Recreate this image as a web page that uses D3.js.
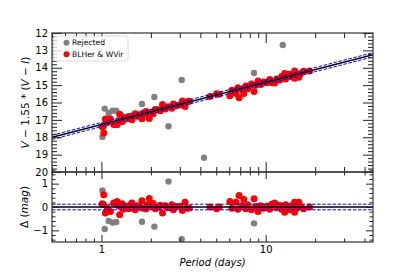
<!DOCTYPE html>
<html>
<head>
<meta charset="utf-8">
<script src="https://cdn.jsdelivr.net/npm/d3@7"></script>
<style>
  body { margin: 0; background: #fff; }
  svg { display: block; font-family: "DejaVu Sans", sans-serif; }
</style>
</head>
<body>
<div id="chart"></div>
<script>
// BLHer & WVir stars (period in days, Wesenheit mag, residual from fit)
const blPeriods = [1.010, 1.033, 1.028, 1.057, 1.087, 1.134, 1.187, 1.245, 1.268, 1.291,
  1.335, 1.360, 1.398, 1.463, 1.499, 1.535, 1.563, 1.607, 1.653, 1.707,
  1.765, 1.797, 1.866, 1.901, 1.954, 2.029, 2.066, 2.125, 2.225, 2.279,
  2.353, 2.443, 2.547, 2.682, 2.743, 2.848, 3.012, 3.110, 3.229, 3.320, 3.428,
  4.577, 5.025, 5.212, 6.050, 6.221, 6.578, 6.765, 6.888, 7.153, 7.356,
  7.564, 7.778, 8.190, 8.493, 8.697, 8.981, 9.326, 9.725, 10.14, 10.57,
  10.87, 11.34, 11.66, 12.16, 12.50, 13.04, 13.22, 13.60, 13.98, 14.38,
  14.99, 14.99, 15.41, 15.91, 16.30, 17.00, 18.49];
const blMags = [17.40, 17.76, 17.35, 16.95, 17.14, 16.95, 17.26, 17.28, 17.07, 16.67,
  17.11, 16.85, 16.95, 16.80, 16.94, 16.99, 16.75, 16.65, 16.79, 16.71,
  16.94, 16.60, 16.52, 16.69, 16.92, 16.55, 16.65, 16.40, 16.42, 16.48,
  16.11, 16.38, 16.25, 16.33, 16.09, 16.19, 16.14, 15.92, 16.23, 15.95, 15.93,
  15.66, 15.50, 15.53, 15.61, 15.29, 15.48, 15.15, 15.72, 15.24, 15.48,
  15.05, 15.21, 14.93, 15.36, 15.01, 14.76, 14.96, 14.82, 14.86, 14.68,
  14.87, 14.88, 14.65, 14.71, 14.50, 14.33, 14.65, 14.52, 14.37, 14.51,
  14.61, 14.18, 14.33, 14.55, 14.34, 14.20, 14.19];
const blResid = [0.14, 0.52, 0.11, -0.26, -0.04, -0.19, 0.17, 0.24, 0.05, -0.33,
  0.14, -0.10, 0.03, -0.07, 0.10, 0.17, -0.05, -0.12, 0.05, 0.00,
  0.27, -0.05, -0.09, 0.10, 0.36, 0.03, 0.15, -0.07, -0.01, 0.08,
  -0.26, 0.05, -0.03, 0.10, -0.12, 0.02, 0.03, -0.15, 0.20, -0.05, -0.04,
  0.00, -0.07, 0.00, 0.24, -0.05, 0.20, -0.10, 0.49, 0.05, 0.32,
  -0.08, 0.10, -0.12, 0.35, 0.02, -0.19, 0.05, -0.05, 0.03, -0.10,
  0.12, 0.17, -0.03, 0.08, -0.10, -0.23, 0.10, 0.00, -0.12, 0.05,
  0.20, -0.23, -0.05, 0.20, 0.02, -0.08, 0.00];

// rejected stars
const rejPeriods = [1.014, 1.047, 1.107, 1.17, 1.23, 1.765, 2.10, 2.56, 3.08, 4.21, 8.49, 12.7];
const rejMags = [17.98, 16.35, 16.60, 16.47, 16.47, 16.08, 15.68, 17.37, 14.70, 19.18, 14.30, 12.69];
const rejResid = [0.71, -0.94, -0.60, -0.67, -0.64, -0.63, -0.84, 1.09, -1.38, 3.43, -0.70, -1.90];

// P-W fit: W = zero + slope * log10(P), scatter band +/- sigma
const fitSlope = -2.43;
const fitZero = 17.27;
const fitSigma = 0.12;

const xDomain = [0.5, 45];
const topDomain = [12, 20];
const botDomain = [-1.5, 1.5];
const xMajor = [1, 10];
const xMinor = [0.5, 0.6, 0.7, 0.8, 0.9, 2, 3, 4, 5, 6, 7, 8, 9, 20, 30, 40];
const topMajor = [12, 13, 14, 15, 16, 17, 18, 19, 20];
const botMajor = [-1, 0, 1];

const W = 415, H = 277;
const left = 52, right = 373;
const topY0 = 33, topY1 = 172, botY1 = 242;

const svg = d3.select("#chart").append("svg")
  .attr("width", W).attr("height", H);

const x = d3.scaleLog().domain(xDomain).range([left, right]);
const yTop = d3.scaleLinear().domain(topDomain).range([topY0, topY1]);
const yBot = d3.scaleLinear().domain(botDomain).range([botY1, topY1]);

// minor ticks every 0.2 mag
function minorTicks(dom) {
  const lo = Math.min(dom[0], dom[1]), hi = Math.max(dom[0], dom[1]);
  return d3.range(Math.round(lo * 5), Math.round(hi * 5) + 1)
    .map(d => d / 5).filter(d => Math.abs(d - Math.round(d)) > 1e-6);
}

svg.append("clipPath").attr("id", "clipTop").append("rect")
  .attr("x", left).attr("y", topY0).attr("width", right - left).attr("height", topY1 - topY0);
svg.append("clipPath").attr("id", "clipBot").append("rect")
  .attr("x", left).attr("y", topY1).attr("width", right - left).attr("height", botY1 - topY1);

function drawPanel(y, y0, y1, clipId, mags, rmags, bandCenter, majorY, minorY, isBottom) {
  const g = svg.append("g");
  const plot = g.append("g").attr("clip-path", "url(#" + clipId + ")");

  // rejected
  plot.selectAll(".rej").data(rejPeriods).enter().append("circle")
    .attr("cx", d => x(d))
    .attr("cy", (d, i) => y(rmags[i]))
    .attr("r", 3.2)
    .attr("fill", "#808080");

  // BLHer & WVir
  plot.selectAll(".bl").data(blPeriods).enter().append("circle")
    .attr("cx", d => x(d))
    .attr("cy", (d, i) => y(mags[i]))
    .attr("r", 3.5)
    .attr("fill", "#ff0000");

  // fit line and sigma band
  const line = d3.line().x(d => x(d)).y(d => y(bandCenter(d)));
  [-fitSigma, fitSigma].forEach(off => {
    plot.append("path")
      .attr("d", d3.line().x(d => x(d)).y(d => y(bandCenter(d) + off))(xDomain))
      .attr("fill", "none").attr("stroke", "#0000ff")
      .attr("stroke-width", 1).attr("stroke-dasharray", "3.5,1.6");
  });
  plot.append("path")
    .attr("d", line(xDomain))
    .attr("fill", "none").attr("stroke", "#000").attr("stroke-width", 1.4);

  const majLen = isBottom ? 7 : 10;
  const minLen = isBottom ? 3.5 : 5;
  const tickCol = "#222";

  // y ticks left & right
  g.append("g").attr("transform", "translate(" + left + ",0)")
    .call(d3.axisLeft(y).tickValues(majorY).tickSize(-majLen).tickPadding(4)
      .tickFormat(d => d < 0 ? "\u2212" + Math.abs(d) : d));
  g.append("g").attr("transform", "translate(" + left + ",0)")
    .call(d3.axisLeft(y).tickValues(minorY).tickSize(-minLen).tickFormat(""));
  g.append("g").attr("transform", "translate(" + right + ",0)")
    .call(d3.axisRight(y).tickValues(majorY).tickSize(-majLen).tickFormat(""));
  g.append("g").attr("transform", "translate(" + right + ",0)")
    .call(d3.axisRight(y).tickValues(minorY).tickSize(-minLen).tickFormat(""));

  // x ticks top & bottom
  g.append("g").attr("transform", "translate(0," + y0 + ")")
    .call(d3.axisTop(x).tickValues(xMajor).tickSize(-majLen).tickFormat(""));
  g.append("g").attr("transform", "translate(0," + y0 + ")")
    .call(d3.axisTop(x).tickValues(xMinor).tickSize(-minLen).tickFormat(""));
  g.append("g").attr("transform", "translate(0," + y1 + ")")
    .call(d3.axisBottom(x).tickValues(xMajor).tickSize(-majLen).tickPadding(4)
      .tickFormat(isBottom ? d3.format("d") : ""));
  g.append("g").attr("transform", "translate(0," + y1 + ")")
    .call(d3.axisBottom(x).tickValues(xMinor).tickSize(-minLen).tickFormat(""));

  g.selectAll(".domain").remove();
  g.selectAll(".tick line").attr("stroke", tickCol).attr("stroke-width", 1);
  g.selectAll(".tick text").attr("font-size", "10px").attr("fill", "#000")
    .attr("font-family", "DejaVu Sans");

  g.append("rect").attr("x", left).attr("y", y0)
    .attr("width", right - left).attr("height", y1 - y0)
    .attr("fill", "none").attr("stroke", "#333").attr("stroke-width", 1.2);
  return g;
}

drawPanel(yTop, topY0, topY1, "clipTop", blMags, rejMags,
  p => fitZero + fitSlope * Math.log10(p), topMajor, minorTicks(topDomain), false);
drawPanel(yBot, topY1, botY1, "clipBot", blResid, rejResid,
  p => 0, botMajor, minorTicks(botDomain), true);

// legend
const leg = svg.append("g");
leg.append("rect").attr("x", 53.5).attr("y", 36).attr("width", 74.5).attr("height", 25)
  .attr("rx", 2.5).attr("fill", "#fff").attr("fill-opacity", 0.8)
  .attr("stroke", "#d0d0d0").attr("stroke-width", 0.8);
const legItems = [{ label: "Rejected", color: "#808080" }, { label: "BLHer & WVir", color: "#ff0000" }];
legItems.forEach((d, i) => {
  const cy = 42.7 + i * 11.5;
  leg.append("circle").attr("cx", 66.5).attr("cy", cy).attr("r", 3).attr("fill", d.color);
  leg.append("text").attr("x", 72).attr("y", cy + 2.7).attr("font-size", "7.6px")
    .text(d.label);
});

// axis labels
const yl = svg.append("text")
  .attr("transform", "translate(29," + ((topY0 + topY1) / 2) + ") rotate(-90)")
  .attr("text-anchor", "middle").attr("font-size", "10.5px");
yl.append("tspan").attr("font-style", "italic").text("V");
yl.append("tspan").text(" \u2212 1.55 * (");
yl.append("tspan").attr("font-style", "italic").text("V");
yl.append("tspan").text(" \u2212 ");
yl.append("tspan").attr("font-style", "italic").text("I");
yl.append("tspan").text(")");

const dl = svg.append("text")
  .attr("transform", "translate(28," + ((topY1 + botY1) / 2) + ") rotate(-90)")
  .attr("text-anchor", "middle").attr("font-size", "10.5px");
dl.append("tspan").text("\u0394 (");
dl.append("tspan").attr("font-style", "italic").text("mag");
dl.append("tspan").text(")");

svg.append("text").attr("x", (left + right) / 2).attr("y", 266)
  .attr("text-anchor", "middle").attr("font-size", "10px").attr("font-style", "italic")
  .text("Period (days)");
</script>
</body>
</html>
